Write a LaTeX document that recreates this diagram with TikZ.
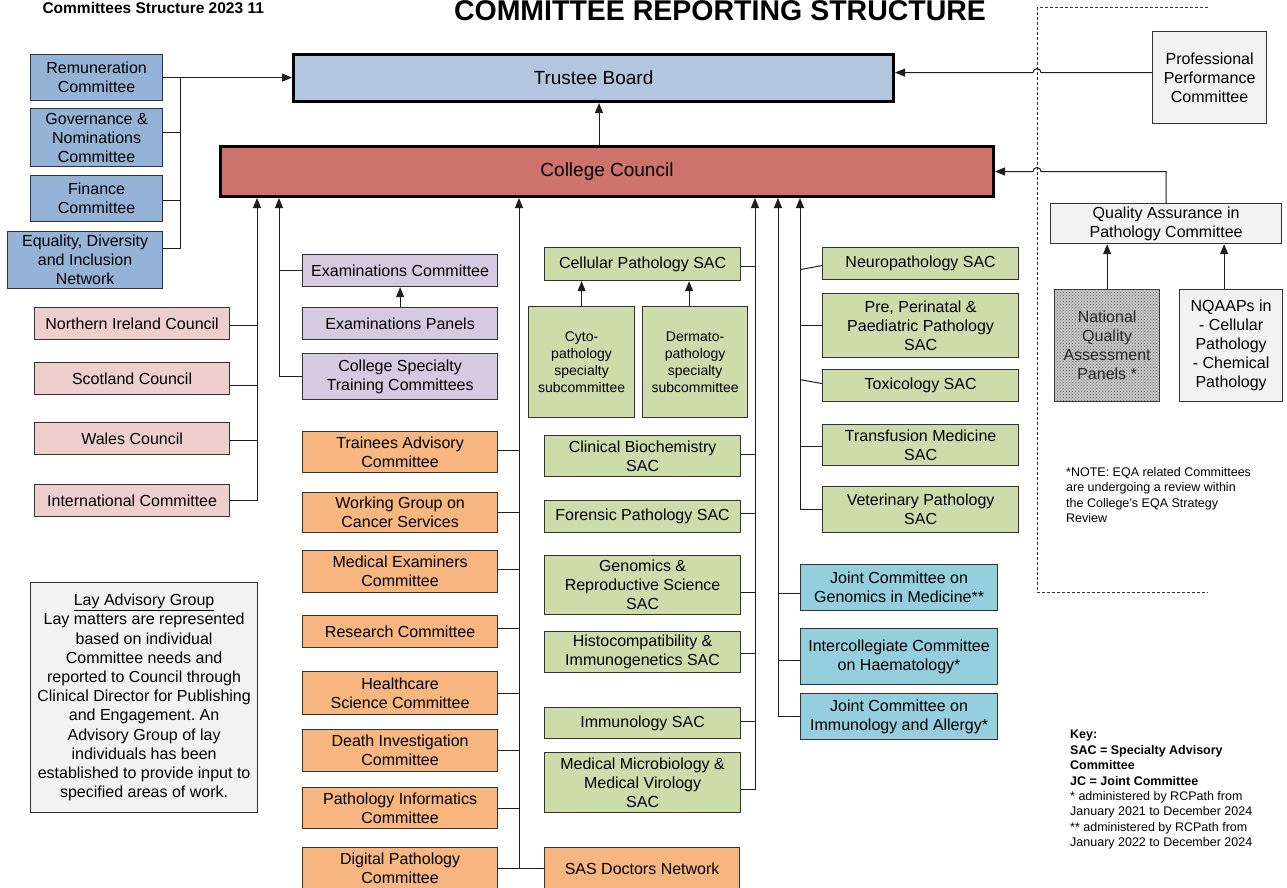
\documentclass[tikz,border=0pt]{standalone}
\usepackage{fontspec}
\setmainfont{Liberation Sans}
\usepackage{xcolor}
\usepackage{tikz}
\usetikzlibrary{arrows.meta, patterns}
\frenchspacing

\definecolor{govblue}{HTML}{95B3D7}
\definecolor{boardblue}{HTML}{B3C6E0}
\definecolor{councilred}{HTML}{CD736B}
\definecolor{natpink}{HTML}{EFCFCD}
\definecolor{exampurple}{HTML}{D4CBE0}
\definecolor{comorange}{HTML}{F7B57F}
\definecolor{sacgreen}{HTML}{CEDCAC}
\definecolor{jointcyan}{HTML}{95CEDD}
\definecolor{paleGray}{HTML}{F2F2F2}
\definecolor{boxline}{HTML}{333333}
\definecolor{linecol}{HTML}{1E1E1E}

\tikzset{
    box/.style={draw=boxline, line width=1.2pt, anchor=north west, align=center,
        inner sep=1pt, text=black, font=\fontsize{16}{19}\selectfont},
    board/.style={box, draw=black, line width=3pt, font=\fontsize{19}{22}\selectfont},
    link/.style={draw=linecol, line width=1pt},
}

\begin{document}
\begin{tikzpicture}[x=1pt, y=-1pt, >={Triangle[length=10pt, width=8pt]}]
    \useasboundingbox (0,0) rectangle (1287,888);
    \fill[white] (0,0) rectangle (1287,888);

    % Titles
    \node[anchor=base, font=\fontsize{28.5}{30}\selectfont\bfseries] (title) at (720,21) {COMMITTEE REPORTING STRUCTURE};
    \node[anchor=base west, font=\fontsize{15.5}{17}\selectfont\bfseries] (version) at (39,14) {Committees Structure 2023 11};

    % Trustee Board and College Council
    \node[board, fill=boardblue, minimum width=600, minimum height=47] (trustee) at (292,53) {Trustee Board};
    \node[board, fill=councilred, minimum width=773, minimum height=50] (council) at (219,145) {College Council};

    % Bus positions
    \coordinate (busA) at (180,0);
    \coordinate (busP) at (257,0);
    \coordinate (busE) at (279,0);
    \coordinate (busO) at (519,0);
    \coordinate (busG) at (755,0);
    \coordinate (busJ) at (778,0);
    \coordinate (busR) at (800,0);
    \coordinate (jump) at (1041,0);

    % Committees reporting to the Trustee Board
    \node[box, fill=govblue, minimum width=132, minimum height=46] (rem) at (30,54) {Remuneration\\Committee};
    \node[box, fill=govblue, minimum width=132, minimum height=58] (gov) at (30,108) {Governance \&\\Nominations\\Committee};
    \node[box, fill=govblue, minimum width=132, minimum height=46] (fin) at (30,175) {Finance\\Committee};
    \node[box, fill=govblue, minimum width=155, minimum height=57] (edi) at (7,231) {Equality, Diversity\\and Inclusion\\Network};

    % National councils
    \node[box, fill=natpink, minimum width=195, minimum height=32] (nic) at (34,307) {Northern Ireland Council};
    \node[box, fill=natpink, minimum width=195, minimum height=32] (scot) at (34,362) {Scotland Council};
    \node[box, fill=natpink, minimum width=195, minimum height=32] (wales) at (34,422) {Wales Council};
    \node[box, fill=natpink, minimum width=195, minimum height=32] (intl) at (34,484) {International Committee};

    % Examinations
    \node[box, fill=exampurple, minimum width=195, minimum height=32] (exam) at (302,254) {Examinations Committee};
    \node[box, fill=exampurple, minimum width=195, minimum height=32] (panels) at (302,307) {Examinations Panels};
    \node[box, fill=exampurple, minimum width=195, minimum height=46] (cst) at (302,353) {College Specialty\\Training Committees};

    % Other committees
    \node[box, fill=comorange, minimum width=195, minimum height=41] (tac) at (302,431) {Trainees Advisory\\Committee};
    \node[box, fill=comorange, minimum width=195, minimum height=40] (wgcs) at (302,492) {Working Group on\\Cancer Services};
    \node[box, fill=comorange, minimum width=195, minimum height=42] (mec) at (302,550) {Medical Examiners\\Committee};
    \node[box, fill=comorange, minimum width=195, minimum height=32] (research) at (302,615) {Research Committee};
    \node[box, fill=comorange, minimum width=195, minimum height=43] (hsc) at (302,671) {Healthcare\\Science Committee};
    \node[box, fill=comorange, minimum width=195, minimum height=42] (dic) at (302,729) {Death Investigation\\Committee};
    \node[box, fill=comorange, minimum width=195, minimum height=41] (pic) at (302,787) {Pathology Informatics\\Committee};
    \node[box, fill=comorange, minimum width=195, minimum height=42] (dpc) at (302,847) {Digital Pathology\\Committee};
    \node[box, fill=comorange, minimum width=195, minimum height=42] (sas) at (544,847) {SAS Doctors Network};

    % Specialty Advisory Committees, first column
    \node[box, fill=sacgreen, minimum width=196, minimum height=33] (cellsac) at (544,247) {Cellular Pathology SAC};
    \node[box, fill=sacgreen, minimum width=106, minimum height=111, font=\fontsize{14}{17}\selectfont] (cyto) at (528,306) {Cyto-\\pathology\\specialty\\subcommittee};
    \node[box, fill=sacgreen, minimum width=105, minimum height=111, font=\fontsize{14}{17}\selectfont] (dermato) at (642,306) {Dermato-\\pathology\\specialty\\subcommittee};
    \node[box, fill=sacgreen, minimum width=196, minimum height=41] (clinbio) at (544,435) {Clinical Biochemistry\\SAC};
    \node[box, fill=sacgreen, minimum width=196, minimum height=32] (forensic) at (544,500) {Forensic Pathology SAC};
    \node[box, fill=sacgreen, minimum width=196, minimum height=59] (genomics) at (544,555) {Genomics \&\\Reproductive Science\\SAC};
    \node[box, fill=sacgreen, minimum width=196, minimum height=41] (histo) at (544,631) {Histocompatibility \&\\Immunogenetics SAC};
    \node[box, fill=sacgreen, minimum width=196, minimum height=31] (immuno) at (544,707) {Immunology SAC};
    \node[box, fill=sacgreen, minimum width=196, minimum height=60] (micro) at (544,752) {Medical Microbiology \&\\Medical Virology\\SAC};

    % Specialty Advisory Committees, second column
    \node[box, fill=sacgreen, minimum width=196, minimum height=32] (neuro) at (822,247) {Neuropathology SAC};
    \node[box, fill=sacgreen, minimum width=196, minimum height=64] (paed) at (822,293) {Pre, Perinatal \&\\Paediatric Pathology\\SAC};
    \node[box, fill=sacgreen, minimum width=196, minimum height=32] (toxi) at (822,369) {Toxicology SAC};
    \node[box, fill=sacgreen, minimum width=196, minimum height=41] (transf) at (822,424) {Transfusion Medicine\\SAC};
    \node[box, fill=sacgreen, minimum width=196, minimum height=46] (vet) at (822,486) {Veterinary Pathology\\SAC};

    % Joint committees
    \node[box, fill=jointcyan, minimum width=197, minimum height=46] (jcgm) at (800,564) {Joint Committee on\\Genomics in Medicine**};
    \node[box, fill=jointcyan, minimum width=197, minimum height=56] (ich) at (800,628) {Intercollegiate Committee\\on Haematology*};
    \node[box, fill=jointcyan, minimum width=197, minimum height=46] (jcia) at (800,693) {Joint Committee on\\Immunology and Allergy*};

    % Quality assurance side
    \node[box, fill=paleGray, minimum width=114, minimum height=92] (ppc) at (1152,31) {Professional\\Performance\\Committee};
    \node[box, fill=paleGray, minimum width=231, minimum height=40] (qa) at (1050,203) {Quality Assurance in\\Pathology Committee};
    \node[box, fill=gray!45, postaction={pattern=crosshatch dots, pattern color=black!60}, minimum width=105, minimum height=112, text=black!85] (nqap) at (1054,289) {National\\Quality\\Assessment\\Panels *};
    \node[box, fill=paleGray, minimum width=103, minimum height=112] (nqaaps) at (1179,289) {NQAAPs in\\- Cellular\\Pathology\\- Chemical\\Pathology};

    % Lay Advisory Group
    \node[box, fill=paleGray, minimum width=227, minimum height=230, font=\fontsize{16}{19.2}\selectfont] (lay) at (30,582) {\underline{Lay Advisory Group}\\Lay matters are represented\\based on individual\\Committee needs and\\reported to Council through\\Clinical Director for Publishing\\and Engagement. An\\Advisory Group of lay\\individuals has been\\established to provide input to\\specified areas of work.};

    % Notes and key
    \node[anchor=north west, align=left, inner sep=0, font=\fontsize{12.5}{15.5}\selectfont] (note) at (1066,467) {*NOTE: EQA related Committees\\are undergoing a review within\\the College’s EQA Strategy\\Review};
    \node[anchor=north west, align=left, inner sep=0, font=\fontsize{12.5}{15.4}\selectfont] (key) at (1070,730) {\textbf{Key:}\\\textbf{SAC = Specialty Advisory}\\\textbf{Committee}\\\textbf{JC = Joint Committee}\\{}* administered by RCPath from\\January 2021 to December 2024\\{}** administered by RCPath from\\January 2022 to December 2024};

    % Dashed frame round the quality assurance side
    \draw[draw=black!80, line width=1pt, dash pattern=on 3pt off 2pt] (1208,8) -- (1037,8) -- (1037,592) -- (1208,592);

    % Links to the Trustee Board
    \draw[link,->] (rem.east) -- (rem.east -| trustee.west);
    \draw[link] ([yshift=12pt]edi.east) -| (busA |- rem.east);
    \draw[link] ([yshift=5pt]gov.east) -- ([yshift=5pt]gov.east -| busA);
    \draw[link] ([yshift=-2pt]fin.east) -- ([yshift=-2pt]fin.east -| busA);
    \draw[link,->] ([xshift=-8pt]council.north) -- ([xshift=-8pt]council.north |- trustee.south);
    \draw[link,->] ([yshift=5pt]ppc.west) -- ([yshift=5pt]ppc.west -| jump) arc[start angle=0, end angle=180, radius=4pt] -- ([yshift=5pt]ppc.west -| trustee.east);

    % Links to the College Council
    \draw[link,->] (qa.north) |- (jump |- council.east) arc[start angle=0, end angle=180, radius=4pt] -- (council.east);
    \draw[link,->] (nqap.north) -- (nqap.north |- qa.south);
    \draw[link,->] ([xshift=-7pt]nqaaps.north) -- ([xshift=-7pt]nqaaps.north |- qa.south);

    % National councils
    \draw[link,->] (intl.east) -| (busP |- council.south);
    \draw[link] ([yshift=-2pt]nic.east) -- ([yshift=-2pt]nic.east -| busP);
    \draw[link] ([yshift=-7pt]scot.east) -- ([yshift=-7pt]scot.east -| busP);
    \draw[link] ([yshift=-2pt]wales.east) -- ([yshift=-2pt]wales.east -| busP);

    % Examinations
    \draw[link,->] (cst.west) -| (busE |- council.south);
    \draw[link] (exam.west) -- (exam.west -| busE);
    \draw[link,->] (panels.north) -- (exam.south);

    % Other committees
    \draw[link,->] (dpc.east) -| (busO |- council.south);
    \draw[link] ([yshift=2pt]tac.east) -- ([yshift=2pt]tac.east -| busO);
    \draw[link] (wgcs.east) -- (wgcs.east -| busO);
    \draw[link] ([yshift=2pt]mec.east) -- ([yshift=2pt]mec.east -| busO);
    \draw[link] ([yshift=3pt]research.east) -- ([yshift=3pt]research.east -| busO);
    \draw[link] (hsc.east) -- (hsc.east -| busO);
    \draw[link] (dic.east) -- (dic.east -| busO);
    \draw[link] (pic.east) -- (pic.east -| busO);
    \draw[link] (sas.west) -- (sas.west -| busO);

    % SACs, first column
    \draw[link,->] ([yshift=-7pt]micro.east) -| (busG |- council.south);
    \draw[link] ([yshift=-2pt]cellsac.east) -- ([yshift=-2pt]cellsac.east -| busG);
    \draw[link] ([yshift=2pt]clinbio.east) -- ([yshift=2pt]clinbio.east -| busG);
    \draw[link] ([yshift=3pt]forensic.east) -- ([yshift=3pt]forensic.east -| busG);
    \draw[link] ([yshift=-7pt]genomics.east) -- ([yshift=-7pt]genomics.east -| busG);
    \draw[link] ([yshift=-1pt]histo.east) -- ([yshift=-1pt]histo.east -| busG);
    \draw[link] ([yshift=2pt]immuno.east) -- ([yshift=2pt]immuno.east -| busG);
    \draw[link,->] (cyto.north) -- (cyto.north |- cellsac.south);
    \draw[link,->] ([xshift=-6pt]dermato.north) -- ([xshift=-6pt]dermato.north |- cellsac.south);

    % Joint committees
    \draw[link,->] (jcia.west) -| (busJ |- council.south);
    \draw[link] ([yshift=-6pt]jcgm.west) -- ([yshift=-6pt]jcgm.west -| busJ);
    \draw[link] ([yshift=-4pt]ich.west) -- ([yshift=-4pt]ich.west -| busJ);

    % SACs, second column
    \draw[link,->] (vet.west) -| (busR |- council.south);
    \draw[link] ([yshift=-2pt]neuro.west) -- ([yshift=-6pt]neuro.west -| busR);
    \draw[link] (paed.west) -- (paed.west -| busR);
    \draw[link] ([yshift=2pt]toxi.west) -- ([yshift=6pt]toxi.west -| busR);
    \draw[link] ([yshift=-1pt]transf.west) -- ([yshift=-1pt]transf.west -| busR);
\end{tikzpicture}
\end{document}
